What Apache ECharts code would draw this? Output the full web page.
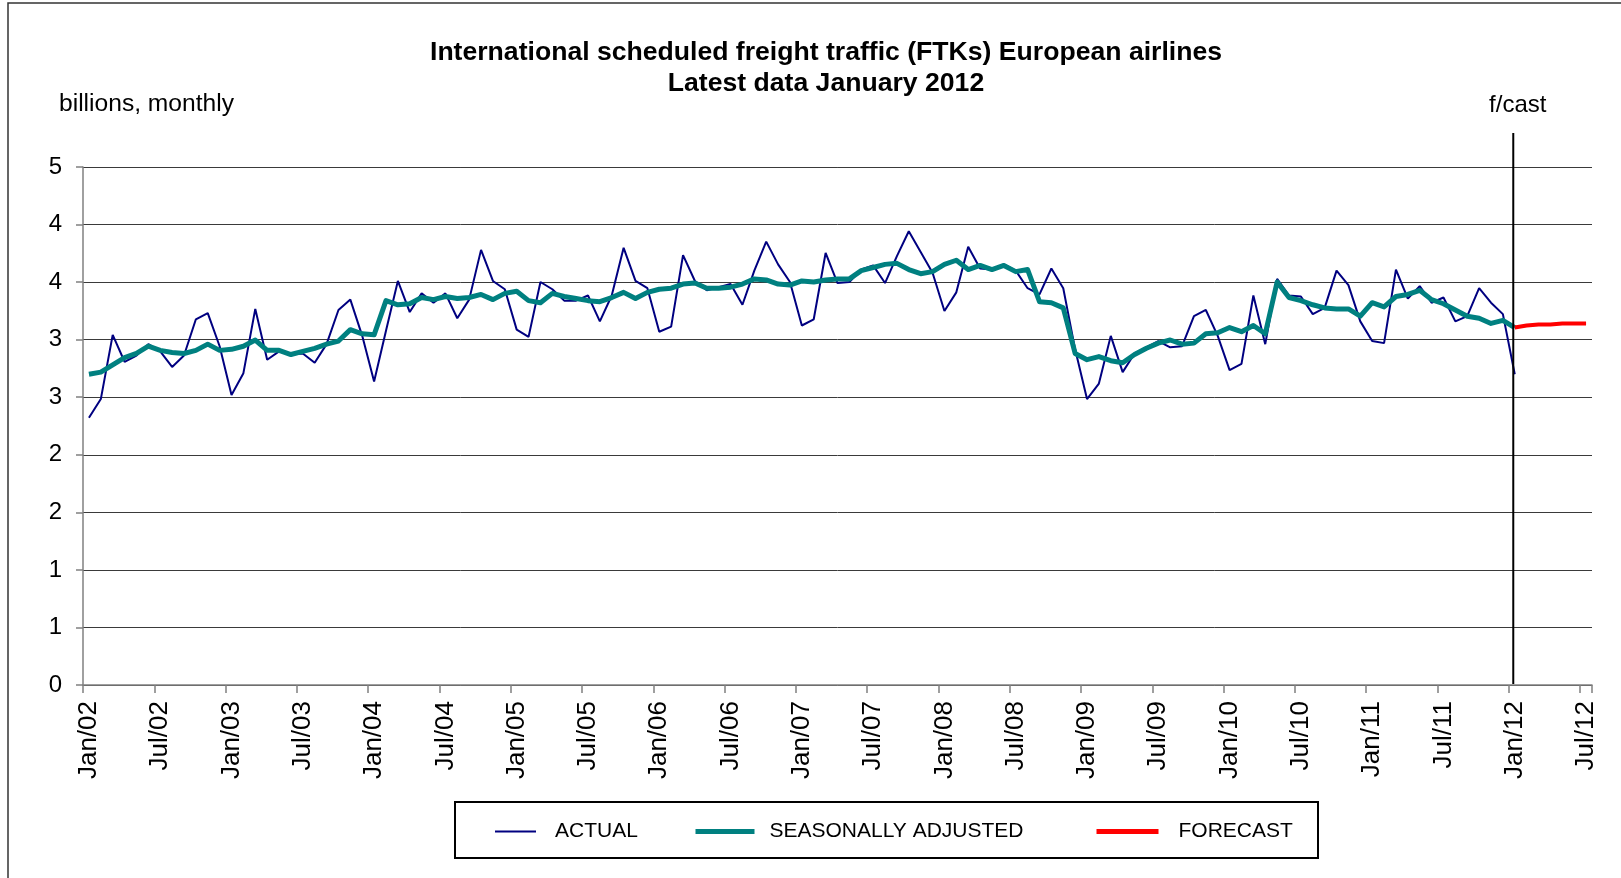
<!DOCTYPE html>
<html>
<head>
<meta charset="utf-8">
<script src="https://cdn.jsdelivr.net/npm/echarts@6/dist/echarts.min.js"></script>
<style>
  html, body { margin: 0; padding: 0; background: #fff; }
  #main { width: 1621px; height: 878px; }
</style>
</head>
<body>
<div id="main"></div>
<script>
// month labels Jan/02 .. Jul/12
const monthNames = ['Jan', 'Feb', 'Mar', 'Apr', 'May', 'Jun', 'Jul', 'Aug', 'Sep', 'Oct', 'Nov', 'Dec'];
const categories = [];
for (let y = 2; y <= 12; y++) {
  for (let m = 0; m < 12; m++) {
    if (y === 12 && m > 6) break;
    categories.push(monthNames[m] + '/' + String(y).padStart(2, '0'));
  }
}

// billions FTKs, Jan/02 .. Jan/12
const actual = [
  2.58, 2.76, 3.38, 3.12, 3.18, 3.29, 3.22, 3.07, 3.18, 3.53, 3.59, 3.27,
  2.80, 3.01, 3.63, 3.14, 3.22, 3.19, 3.20, 3.11, 3.29, 3.62, 3.72, 3.37,
  2.93, 3.42, 3.90, 3.60, 3.78, 3.69, 3.78, 3.54, 3.72, 4.20, 3.90, 3.82,
  3.43, 3.36, 3.89, 3.82, 3.71, 3.71, 3.76, 3.51, 3.76, 4.22, 3.90, 3.83,
  3.41, 3.46, 4.15, 3.90, 3.81, 3.84, 3.87, 3.67, 4.00, 4.28, 4.06, 3.89,
  3.47, 3.53, 4.17, 3.88, 3.89, 4.01, 4.05, 3.88, 4.14, 4.38, 4.18, 3.98,
  3.61, 3.79, 4.23, 4.02, 4.01, 4.06, 4.00, 3.83, 3.77, 4.02, 3.83, 3.24,
  2.76, 2.91, 3.37, 3.02, 3.20, 3.26, 3.32, 3.26, 3.27, 3.56, 3.62, 3.37,
  3.04, 3.10, 3.76, 3.29, 3.92, 3.76, 3.75, 3.58, 3.64, 4.00, 3.86, 3.51,
  3.32, 3.30, 4.01, 3.73, 3.85, 3.69, 3.74, 3.51, 3.56, 3.83, 3.69, 3.58,
  3.00
];
const seasonal = [
  3.00, 3.02, 3.09, 3.16, 3.20, 3.27, 3.23, 3.21, 3.20, 3.23, 3.29, 3.23,
  3.24, 3.27, 3.33, 3.23, 3.23, 3.19, 3.22, 3.25, 3.29, 3.32, 3.43, 3.39,
  3.38, 3.71, 3.67, 3.68, 3.74, 3.72, 3.75, 3.73, 3.74, 3.77, 3.72, 3.78,
  3.80, 3.71, 3.69, 3.78, 3.75, 3.73, 3.71, 3.70, 3.74, 3.79, 3.73, 3.79,
  3.82, 3.83, 3.87, 3.88, 3.83, 3.83, 3.84, 3.87, 3.92, 3.91, 3.87, 3.86,
  3.90, 3.89, 3.91, 3.92, 3.92, 4.00, 4.03, 4.06, 4.07, 4.01, 3.97, 3.99,
  4.06, 4.10, 4.01, 4.05, 4.01, 4.05, 3.99, 4.01, 3.70, 3.69, 3.64, 3.20,
  3.14, 3.17, 3.13, 3.11, 3.19, 3.25, 3.30, 3.33, 3.29, 3.30, 3.39, 3.40,
  3.45, 3.41, 3.47, 3.39, 3.89, 3.74, 3.71, 3.67, 3.64, 3.63, 3.63, 3.56,
  3.69, 3.65, 3.75, 3.77, 3.81, 3.72, 3.68, 3.62, 3.56, 3.54, 3.49, 3.52,
  3.45
];
// Jan/12 .. Jul/12
const forecastStart = 'Jan/12';
const forecast = [3.45, 3.47, 3.48, 3.48, 3.49, 3.49, 3.49];

const FONT = 'Liberation Sans';
const startIdx = categories.indexOf(forecastStart);

const chart = echarts.init(document.getElementById('main'));

const legendBase = {
  top: 821,
  padding: 0,
  itemHeight: 12,
  selectedMode: false,
  // hide the marker dot, keep only the line
  itemStyle: { color: 'rgba(0,0,0,0)', borderWidth: 0, opacity: 0 },
  textStyle: { fontFamily: FONT, fontSize: 21, color: '#000' }
};

chart.setOption({
  animation: false,
  backgroundColor: '#fff',
  title: [{
    text: 'International scheduled freight traffic (FTKs) European airlines\nLatest data January 2012',
    left: 826,
    top: 37,
    padding: 0,
    textAlign: 'center',
    textStyle: { fontFamily: FONT, fontSize: 26.6, fontWeight: 'bold', color: '#000', lineHeight: 31 }
  }, {
    text: 'billions, monthly',
    left: 59,
    top: 92,
    padding: 0,
    textStyle: { fontFamily: FONT, fontSize: 24.6, fontWeight: 'normal', color: '#000' }
  }],
  legend: [
    Object.assign({}, legendBase, {
      data: ['ACTUAL'], left: 494, itemWidth: 41,
      lineStyle: { width: 2 },
      textStyle: Object.assign({}, legendBase.textStyle, { padding: [0, 0, 0, 14] })
    }),
    Object.assign({}, legendBase, {
      data: ['SEASONALLY ADJUSTED'], left: 693, itemWidth: 59,
      lineStyle: { width: 5 },
      textStyle: Object.assign({}, legendBase.textStyle, { padding: [0, 0, 0, 10] })
    }),
    Object.assign({}, legendBase, {
      data: ['FORECAST'], left: 1094, itemWidth: 62,
      lineStyle: { width: 5 },
      textStyle: Object.assign({}, legendBase.textStyle, { padding: [0, 0, 0, 15] })
    })
  ],
  grid: { left: 83, right: 29, top: 167, height: 518, containLabel: false },
  xAxis: {
    type: 'category',
    data: categories,
    boundaryGap: true,
    axisLine: { lineStyle: { color: '#808080', width: 1.5 } },
    axisTick: { show: true, interval: 5, length: 8, lineStyle: { color: '#808080', width: 1.5 } },
    axisLabel: {
      interval: 5,
      rotate: 90,
      margin: 16,
      fontFamily: FONT,
      fontSize: 26,
      color: '#000'
    },
    splitLine: { show: false }
  },
  yAxis: {
    type: 'value',
    min: 0,
    max: 5,
    interval: 5 / 9,
    axisLine: { show: true, lineStyle: { color: '#808080', width: 1.5 } },
    axisTick: { show: true, length: 7, lineStyle: { color: '#808080', width: 1.5 } },
    axisLabel: {
      margin: 21,
      fontFamily: FONT,
      fontSize: 24,
      color: '#000',
      formatter: v => String(Math.round(v))
    },
    splitLine: { lineStyle: { color: '#3a3a3a', width: 1 } }
  },
  series: [{
    name: 'ACTUAL',
    type: 'line',
    data: actual,
    symbol: 'none',
    lineStyle: { color: '#000080', width: 2 },
    itemStyle: { color: '#000080' },
    z: 2
  }, {
    name: 'SEASONALLY ADJUSTED',
    type: 'line',
    data: seasonal,
    symbol: 'none',
    lineStyle: { color: '#008080', width: 5, join: 'round' },
    itemStyle: { color: '#008080' },
    z: 3
  }, {
    name: 'FORECAST',
    type: 'line',
    data: forecast.map((v, k) => [categories[startIdx + k], v]),
    symbol: 'none',
    lineStyle: { color: '#ff0000', width: 4, join: 'round' },
    itemStyle: { color: '#ff0000' },
    z: 4
  }],
  graphic: [{
    id: 'frame',
    type: 'rect',
    shape: { x: 8, y: 3, width: 1700, height: 1000 },
    style: { fill: 'none', stroke: '#333', lineWidth: 1.5 },
    silent: true
  }, {
    id: 'legendBox',
    type: 'rect',
    shape: { x: 455, y: 802, width: 863, height: 56 },
    style: { fill: 'none', stroke: '#000', lineWidth: 2 },
    silent: true
  }]
});

// forecast divider, placed through the axes
const base = chart.convertToPixel({ seriesIndex: 0 }, [forecastStart, 0]);
const top5 = chart.convertToPixel({ seriesIndex: 0 }, [forecastStart, 5]);
chart.setOption({
  graphic: [{
    id: 'fcastLine',
    type: 'line',
    shape: { x1: base[0] - 1.5, y1: top5[1] - 34, x2: base[0] - 1.5, y2: base[1] - 1 },
    style: { stroke: '#000', lineWidth: 2 },
    z: 10,
    silent: true
  }, {
    id: 'fcastText',
    type: 'text',
    x: base[0] + 3,
    y: top5[1] - 62,
    style: {
      text: 'f/cast',
      font: '24px "' + FONT + '"',
      fill: '#000',
      align: 'center',
      verticalAlign: 'middle'
    },
    silent: true
  }]
});
</script>
</body>
</html>
